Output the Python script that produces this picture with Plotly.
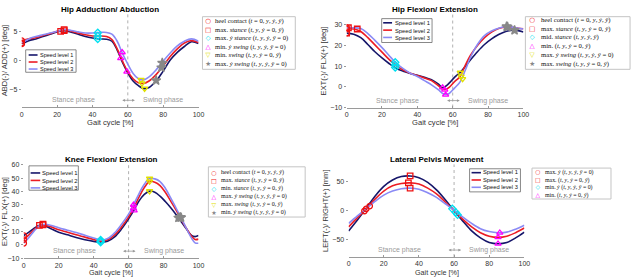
import plotly.graph_objects as go

# ---------------- data ----------------
SPEEDS = ["Speed level 1", "Speed level 2", "Speed level 3"]
GAIT_TICKS = [0, 20, 40, 60, 80, 100]
PHASES = ["Stance phase", "Swing phase"]
XLABEL = "Gait cycle [%]"

# Hip adduction / abduction [deg]
HIP_ADD_X = [0, 4, 8, 12, 16, 20, 24, 28, 32, 36, 40, 44, 48, 51, 54, 57, 60, 63, 66, 69, 72, 76, 80, 84, 88, 92, 96, 100]
HIP_ADD_S1 = [2.85, 3.4, 3.7, 4.1, 4.5, 4.9, 5.1, 4.85, 4.5, 4.1, 3.85, 3.7, 3.65, 3.3, 1.8, -0.3, -2.1, -3.5, -4.3, -4.8, -4.6, -3.5, -1.8, 0.1, 1.4, 2.4, 3.2, 2.9]
HIP_ADD_S2 = [3.4, 3.7, 3.9, 4.3, 4.6, 5.0, 5.25, 5.0, 4.7, 4.4, 4.2, 4.2, 4.1, 3.6, 2.0, -0.1, -1.9, -3.1, -3.8, -3.9, -3.5, -2.4, -0.9, 0.7, 2.0, 3.0, 3.4, 3.1]
HIP_ADD_S3 = [3.0, 3.7, 4.1, 4.4, 4.7, 5.0, 5.3, 5.15, 4.9, 4.7, 4.7, 4.8, 4.8, 4.5, 3.3, 1.2, -0.6, -2.2, -3.1, -3.3, -2.8, -1.6, -0.1, 1.3, 2.5, 3.3, 3.7, 3.3]
HIP_ADD_EVENTS = [
    "heel contact (<i>t</i> = 0, <i>y</i>, <i>ẏ</i>, <i>ÿ</i>)",
    "max. <i>stance</i> (<i>t</i>, <i>y</i>, <i>ẏ</i> = 0, <i>ÿ</i>)",
    "max. <i>ẏ stance</i> (<i>t</i>, <i>y</i>, <i>ẏ</i>, <i>ÿ</i> = 0)",
    "min. <i>ẏ swing</i> (<i>t</i>, <i>y</i>, <i>ẏ</i>, <i>ÿ</i> = 0)",
    "min. <i>swing</i> (<i>t</i>, <i>y</i>, <i>ẏ</i> = 0, <i>ÿ</i>)",
    "max. <i>ẏ swing</i> (<i>t</i>, <i>y</i>, <i>ẏ</i>, <i>ÿ</i> = 0)",
]
HIP_ADD_EV_X = [[0, 0, 0], [24, 22, 24], [43, 43, 43], [59.5, 56, 56.8], [69.5, 68, 67.5], [76, 79, 79.5]]
HIP_ADD_EV_Y = [[2.85, 3.4, 3.0], [5.1, 5.0, 5.3], [3.7, 4.2, 4.75], [-1.9, 0.4, 1.4], [-4.8, -3.9, -3.3], [-3.4, -1.2, -0.4]]

# Hip flexion / extension [deg]
HIP_FLX_X = [0, 4, 8, 12, 16, 20, 24, 28, 32, 36, 40, 44, 48, 52, 54, 56, 58, 61, 64, 67, 70, 74, 78, 82, 86, 90, 94, 97, 100]
HIP_FLX_S1 = [26.0, 25.5, 23.8, 20.5, 17.0, 14.0, 11.3, 9.0, 7.6, 6.5, 5.6, 4.6, 3.5, 1.3, -0.3, 0.3, 1.8, 4.6, 6.8, 9.8, 13.0, 17.0, 20.5, 23.2, 25.3, 26.8, 27.4, 27.2, 26.5]
HIP_FLX_S2 = [28.0, 28.0, 26.8, 23.8, 20.3, 16.8, 13.3, 10.3, 8.2, 6.6, 5.5, 4.3, 3.0, 0.5, -1.0, -1.3, -0.2, 2.5, 4.8, 10.2, 15.2, 20.0, 23.8, 26.5, 28.2, 29.0, 28.8, 28.4, 28.1]
HIP_FLX_S3 = [28.7, 28.6, 28.2, 25.8, 22.5, 19.0, 15.2, 11.5, 8.8, 6.6, 5.0, 3.0, 1.0, -1.5, -3.0, -3.8, -3.2, -0.6, 2.2, 7.8, 14.2, 20.5, 24.8, 27.0, 28.4, 29.2, 28.9, 28.3, 28.0]
HIP_FLX_EVENTS = [
    "heel contact (<i>t</i> = 0, <i>y</i>, <i>ẏ</i>, <i>ÿ</i>)",
    "max. <i>stance</i> (<i>t</i>, <i>y</i>, <i>ẏ</i> = 0, <i>ÿ</i>)",
    "mid. <i>stance</i> (<i>t</i>, <i>y</i>, <i>ẏ</i>, <i>ÿ</i>)",
    "min. (<i>t</i>, <i>y</i>, <i>ẏ</i> = 0, <i>ÿ</i>)",
    "max. <i>ẏ swing</i> (<i>t</i>, <i>y</i>, <i>ẏ</i>, <i>ÿ</i> = 0)",
    "max. <i>swing</i> (<i>t</i>, <i>y</i>, <i>ẏ</i> = 0, <i>ÿ</i>)",
]
HIP_FLX_EV_X = [[0, 0, 0], [0, 6, 1], [27.5, 27.5, 27.5], [54.3, 55.5, 56], [64.3, 64.7, 65.6], [95, 91, 90.5]]
HIP_FLX_EV_Y = [[26.0, 28.0, 28.7], [26.0, 28.0, 28.6], [9.4, 10.6, 11.9], [-0.3, -1.4, -3.8], [6.9, 5.0, 3.8], [27.4, 29.0, 29.2]]

# Knee flexion / extension [deg]
KNEE_X = [0, 3, 6, 9, 12, 16, 20, 25, 30, 35, 40, 44, 48, 52, 56, 60, 63, 66, 69, 72, 75, 78, 81, 84, 87, 90, 93, 96, 98, 100]
KNEE_S1 = [7.0, 9.5, 12.5, 14.6, 14.3, 11.8, 9.5, 7.5, 5.5, 3.8, 2.6, 2.0, 2.8, 6.0, 12.0, 19.5, 25.8, 33.0, 37.8, 40.3, 39.5, 36.5, 32.5, 28.0, 23.0, 17.5, 12.0, 7.0, 6.2, 7.0]
KNEE_S2 = [4.0, 7.5, 11.5, 14.3, 14.8, 13.3, 11.3, 9.5, 7.5, 5.8, 4.0, 2.8, 3.8, 7.5, 13.5, 21.0, 28.0, 36.0, 43.0, 47.5, 47.0, 44.5, 39.5, 33.0, 26.5, 19.5, 12.5, 6.5, 4.0, 4.3]
KNEE_S3 = [1.2, 5.5, 10.5, 14.3, 15.5, 14.5, 12.8, 11.0, 9.2, 7.2, 5.2, 3.6, 4.8, 9.0, 15.5, 23.0, 30.5, 38.5, 45.5, 49.7, 49.5, 47.5, 42.5, 35.5, 28.0, 20.5, 12.5, 5.0, 1.5, 1.2]
KNEE_EVENTS = [
    "heel contact (<i>t</i> = 0, <i>y</i>, <i>ẏ</i>, <i>ÿ</i>)",
    "max. <i>stance</i> (<i>t</i>, <i>y</i>, <i>ẏ</i> = 0, <i>ÿ</i>)",
    "min. <i>stance</i> (<i>t</i>, <i>y</i>, <i>ẏ</i> = 0, <i>ÿ</i>)",
    "max. <i>ẏ swing</i> (<i>t</i>, <i>y</i>, <i>ẏ</i>, <i>ÿ</i> = 0)",
    "max. <i>swing</i> (<i>t</i>, <i>y</i>, <i>ẏ</i> = 0, <i>ÿ</i>)",
    "min. <i>ẏ swing</i> (<i>t</i>, <i>y</i>, <i>ẏ</i>, <i>ÿ</i> = 0)",
]
KNEE_EV_X = [[0, 0, 0], [9, 11, 11], [44, 44, 44], [63.2, 62.8, 62.8], [72, 72, 72], [88.5, 89.5, 90]]
KNEE_EV_Y = [[7.0, 4.0, 1.2], [14.6, 15.0, 15.6], [2.0, 2.8, 3.6], [25.8, 27.5, 30.0], [40.3, 47.5, 49.7], [20.3, 20.7, 20.5]]

# Lateral pelvis movement [mm]
PELVIS_X = [0, 5, 10, 15, 20, 25, 30, 35, 40, 45, 50, 55, 60, 65, 70, 75, 80, 85, 90, 95, 100]
PELVIS_S1 = [-35, -16, 4, 25, 42, 53, 59, 60, 57, 49, 36, 19, 0, -18, -35, -47, -55, -57, -55, -47, -37]
PELVIS_S2 = [-28, -12, 3, 20, 34, 43, 47, 48, 46, 39, 29, 15, 0, -15, -28, -38, -44, -46, -44, -38, -30]
PELVIS_S3 = [-22, -9, 3.5, 16, 27, 34, 38, 39, 37, 31, 23, 12, 1, -11, -22, -31, -36, -38, -37, -32, -25]
PELVIS_EVENTS = [
    "max. <i>ẏ</i> (<i>t</i>, <i>y</i>, <i>ẏ</i>, <i>ÿ</i> = 0)",
    "max. (<i>t</i>, <i>y</i>, <i>ẏ</i> = 0, <i>ÿ</i>)",
    "min. <i>ẏ</i> (<i>t</i>, <i>y</i>, <i>ẏ</i>, <i>ÿ</i> = 0)",
    "min. (<i>t</i>, <i>y</i>, <i>ẏ</i> = 0, <i>ÿ</i>)",
]
PELVIS_EV_X = [[9, 10, 12], [35, 34, 35], [62, 61, 59], [85, 85, 86]]
PELVIS_EV_Y = [[-0.5, 3, 8], [60, 48, 39], [-7.2, -3, 3.2], [-57, -46, -38]]

# ---------------- styles ----------------
LINE_COLORS = ["#16166a", "#ec1c24", "#8a8af5"]
EV_STYLE = [
    ("circle-open", "#ee1111", "○"),
    ("square-open", "#ee1111", "□"),
    ("diamond-open", "#00e0f0", "◇"),
    ("triangle-up-open", "#ff00ff", "△"),
    ("triangle-down-open", "#e0e000", "▽"),
    ("star", "#888888", "★"),
]
SANS = "Liberation Sans, Arial, sans-serif"
SERIF = "Liberation Serif, Times New Roman, serif"
W, H = 640, 280
LS = 1.3  # plotly line spacing (em)


def px(x):
    return x / W


def py(y):
    return 1 - y / H


panels = [
    dict(title="Hip Adduction/ Abduction", ylabel="ABD(-)/ ADD(+) [deg]",
         x=HIP_ADD_X, ys=[HIP_ADD_S1, HIP_ADD_S2, HIP_ADD_S3],
         ev=HIP_ADD_EVENTS, evx=HIP_ADD_EV_X, evy=HIP_ADD_EV_Y,
         xd=(20, 199), yd=(106, 10), yr=[-8, 8], yt=[-5, 0, 5], xt_y=121.7, xfs=7.6,
         sp_box=(24, 47, 75, 70), sp_rows=(52.3, 66.7), sp_line=(27, 36), sp_text=37.5,
         ev_box=(203, 13, 297, 67), ev_rows=(17.5, 60.5), ev_sym=209, ev_text=214.5),
    dict(title="Hip Flexion/ Extension", ylabel="EXT(-)/ FLX(+) [deg]",
         x=HIP_FLX_X, ys=[HIP_FLX_S1, HIP_FLX_S2, HIP_FLX_S3],
         ev=HIP_FLX_EVENTS, evx=HIP_FLX_EV_X, evy=HIP_FLX_EV_Y,
         xd=(349, 528), yd=(106.2, 10.8), yr=[-10, 35], yt=[-10, 0, 10, 20, 30], xt_y=121.7, xfs=7.6,
         sp_box=(384.5, 15, 435.5, 39.5), sp_rows=(19.3, 34.3), sp_line=(386, 395), sp_text=396.7,
         ev_box=(530, 13, 636, 67), ev_rows=(17.0, 60.5), ev_sym=537, ev_text=544.5),
    dict(title="Knee Flexion/ Extension", ylabel="EXT(-)/ FLX(+) [deg]",
         x=KNEE_X, ys=[KNEE_S1, KNEE_S2, KNEE_S3],
         ev=KNEE_EVENTS, evx=KNEE_EV_X, evy=KNEE_EV_Y,
         xd=(22, 199), yd=(260.7, 165), yr=[-10, 60], yt=[-10, 0, 10, 20, 30, 40, 50, 60], xt_y=275.3, xfs=7.2,
         sp_box=(27.3, 166, 77.3, 191), sp_rows=(173.3, 188.6), sp_line=(29, 38.7), sp_text=39.3,
         ev_box=(209, 167, 307, 218.5), ev_rows=(173.3, 212.8), ev_sym=215, ev_text=220.5),
    dict(title="Lateral Pelvis Movement", ylabel="LEFT(-)/ RIGHT(+) [mm]",
         x=PELVIS_X, ys=[PELVIS_S1, PELVIS_S2, PELVIS_S3],
         ev=PELVIS_EVENTS, evx=PELVIS_EV_X, evy=PELVIS_EV_Y,
         xd=(351, 529), yd=(259.5, 164.5), yr=[-80, 80], yt=[-50, 0, 50], xt_y=275.3, xfs=7.2,
         sp_box=(473.5, 169, 525, 192.7), sp_rows=(173, 188), sp_line=(475.5, 485), sp_text=485.7,
         ev_box=(536.7, 168.3, 616.7, 200), ev_rows=(172.7, 195.7), ev_sym=542.7, ev_text=548.5),
]

fig = go.Figure()
shapes = []
annotations = []
layout = {}

for i, p in enumerate(panels):
    n = "" if i == 0 else str(i + 1)
    xa, ya = "x" + n, "y" + n
    # speed curves
    for s, yv in enumerate(p["ys"]):
        fig.add_trace(go.Scatter(x=p["x"], y=yv, mode="lines", name=SPEEDS[s],
                                 line=dict(color=LINE_COLORS[s], width=1.6, shape="spline", smoothing=1.0),
                                 xaxis=xa, yaxis=ya, showlegend=False, hoverinfo="skip"))
    # event markers
    for e, lab in enumerate(p["ev"]):
        sym, col, _ = EV_STYLE[e]
        fig.add_trace(go.Scatter(x=p["evx"][e], y=p["evy"][e], mode="markers", name=lab,
                                 marker=dict(symbol=sym, color=col, size=5.5 if sym != "star" else 7,
                                             line=dict(color=col, width=1.3)),
                                 xaxis=xa, yaxis=ya, showlegend=False))

    layout["xaxis" + n] = dict(
        domain=[px(p["xd"][0]), px(p["xd"][1])], anchor=ya, range=[0, 100], tickvals=GAIT_TICKS,
        showline=True, linecolor="#9a9a9a", linewidth=1, ticks="inside", ticklen=2, tickcolor="#9a9a9a",
        tickfont=dict(family=SANS, size=7, color="#333"), showgrid=False, zeroline=False,
    )
    layout["yaxis" + n] = dict(
        domain=[py(p["yd"][0]), py(p["yd"][1])], anchor=xa, range=p["yr"], tickvals=p["yt"],
        showline=False, ticks="outside", ticklen=2, tickcolor="#9a9a9a",
        tickfont=dict(family=SANS, size=7, color="#333"), showgrid=False, zeroline=False,
        title=dict(text=p["ylabel"], font=dict(family=SANS, size=7.6, color="#333"), standoff=2),
    )
    # x-axis label
    xc = px((p["xd"][0] + p["xd"][1]) / 2)
    annotations.append(dict(text=XLABEL, x=xc, y=py(p["xt_y"]), xref="paper", yref="paper", borderpad=0,
                            showarrow=False, xanchor="center", yanchor="middle",
                            font=dict(family=SANS, size=p["xfs"], color="#333")))

    # title
    annotations.append(dict(text="<b>" + p["title"] + "</b>", x=xc,
                            y=py(5.8 if i < 2 else 159.2), xref="paper", yref="paper",
                            showarrow=False, font=dict(family=SANS, size=8, color="#000"),
                            xanchor="center", yanchor="middle"))
    # gait-phase separator & labels
    shapes.append(dict(type="line", x0=60, x1=60, y0=0, y1=1, xref=xa, yref=ya + " domain",
                       line=dict(color="#b0b0b0", width=1, dash="dot"), layer="below"))
    for txt, xp in zip(PHASES, [29, 80]):
        annotations.append(dict(text=txt, x=xp, y=0.075, xref=xa, yref=ya + " domain", showarrow=False,
                                font=dict(family=SANS, size=7, color="#9a9a9a"), yanchor="middle"))
    annotations.append(dict(text="", x=64, y=0.075, ax=56, ay=0.075, xref=xa, yref=ya + " domain",
                            axref=xa, ayref=ya + " domain", showarrow=True, arrowside="end+start",
                            arrowhead=2, arrowsize=0.7, arrowwidth=0.8, arrowcolor="#9a9a9a"))

    # speed legend
    x0, y0, x1, y1 = p["sp_box"]
    shapes.append(dict(type="rect", xref="paper", yref="paper", x0=px(x0), x1=px(x1), y0=py(y1), y1=py(y0),
                       line=dict(color="#6a6a6a", width=0.8), fillcolor="white", layer="above"))
    r0, r1 = p["sp_rows"]
    step = (r1 - r0) / (len(SPEEDS) - 1)
    for s in range(len(SPEEDS)):
        ry = r0 + s * step
        shapes.append(dict(type="line", xref="paper", yref="paper", x0=px(p["sp_line"][0]), x1=px(p["sp_line"][1]),
                           y0=py(ry), y1=py(ry), line=dict(color=LINE_COLORS[s], width=1.6), layer="above"))
    annotations.append(dict(text="<br>".join(SPEEDS), x=px(p["sp_text"]), y=py((r0 + r1) / 2),
                            xref="paper", yref="paper", showarrow=False, xanchor="left", yanchor="middle",
                            align="left", borderpad=0,
                            font=dict(family=SANS, size=step / LS, color="#111")))

    # event legend
    x0, y0, x1, y1 = p["ev_box"]
    shapes.append(dict(type="rect", xref="paper", yref="paper", x0=px(x0), x1=px(x1), y0=py(y1), y1=py(y0),
                       line=dict(color="#c4c4c4", width=1), fillcolor="white", layer="above"))
    r0, r1 = p["ev_rows"]
    ne = len(p["ev"])
    step = (r1 - r0) / (ne - 1)
    glyphs = "<br>".join('<span style="color:%s"><b>%s</b></span>' % (EV_STYLE[e][1], EV_STYLE[e][2])
                         for e in range(ne))
    annotations.append(dict(text=glyphs, x=px(p["ev_sym"]), y=py((r0 + r1) / 2), xref="paper", yref="paper",
                            showarrow=False, xanchor="center", yanchor="middle", borderpad=0,
                            font=dict(family="DejaVu Sans", size=step / LS, color="#111")))
    annotations.append(dict(text="<br>".join(p["ev"]), x=px(p["ev_text"]), y=py((r0 + r1) / 2),
                            xref="paper", yref="paper", showarrow=False, xanchor="left", yanchor="middle",
                            align="left", borderpad=0,
                            font=dict(family=SERIF, size=step / LS, color="#111")))

fig.update_layout(
    width=W, height=H, margin=dict(l=0, r=0, t=0, b=0),
    paper_bgcolor="white", plot_bgcolor="white",
    showlegend=False, shapes=shapes, annotations=annotations, **layout,
)
# place the 640x280 figure flush with the page corner (no default body margin), no mode bar
fig.write_html("out.html", config={"displayModeBar": False},
               post_script="document.body.style.margin='0';")
